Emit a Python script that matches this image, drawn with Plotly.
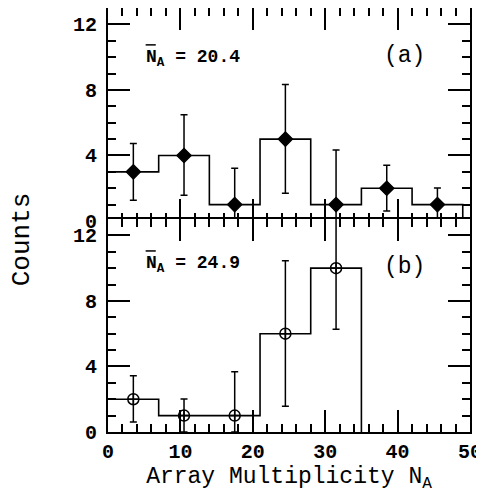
import plotly.graph_objects as go
from plotly.subplots import make_subplots

# ---- data ----
edges_a = [0, 7, 14, 21, 28, 35, 42, 49]
counts_a = [3, 4, 1, 5, 1, 2, 1]
centers_a = [3.5, 10.5, 17.5, 24.5, 31.5, 38.5, 45.5]
err_plus_a = [1.73, 2.49, 2.22, 3.33, 3.33, 1.41, 1.02]
err_minus_a = [1.73, 2.43, 1.0, 3.31, 1.0, 1.39, 1.0]

edges_b = [0, 7, 14, 21, 28, 35]
counts_b = [2, 1, 1, 6, 10]
centers_b = [3.5, 10.5, 17.5, 24.5, 31.5]
err_plus_b = [1.43, 1.02, 2.67, 4.45, 5.0]
err_minus_b = [1.39, 1.0, 1.0, 4.43, 3.73]

label_a = "N<sub>A</sub> = 20.4"
label_b = "N<sub>A</sub> = 24.9"
panel_a = "(a)"
panel_b = "(b)"
x_ticks = [0, 10, 20, 30, 40, 50]
y_ticks = [0, 4, 8, 12]


def step_xy(edges, counts):
    xs = list(edges[:-1]) + [edges[-1], edges[-1]]
    ys = list(counts) + [counts[-1], 0]
    return xs, ys


MONO = "Liberation Mono"
LW = 2

fig = make_subplots(rows=2, cols=1, shared_xaxes=True, vertical_spacing=0)

for row, edges, counts, centers, ep, em, sym in [
    (1, edges_a, counts_a, centers_a, err_plus_a, err_minus_a, "diamond"),
    (2, edges_b, counts_b, centers_b, err_plus_b, err_minus_b, "circle-cross-open"),
]:
    xs, ys = step_xy(edges, counts)
    fig.add_trace(go.Scatter(x=xs, y=ys, mode="lines", line=dict(shape="hv", color="black", width=1.6),
                             showlegend=False, hoverinfo="skip"), row=row, col=1)
    fig.add_trace(go.Scatter(
        x=centers, y=counts, mode="markers",
        marker=dict(symbol=sym, size=11, color="black",
                    line=dict(color="black", width=1.3 if sym == "diamond" else 1.5)),
        error_y=dict(type="data", symmetric=False, array=ep, arrayminus=em,
                     color="black", thickness=1.5, width=3.5),
        showlegend=False), row=row, col=1)

axis_common = dict(
    showline=True, linewidth=LW, linecolor="black", mirror="ticks",
    ticks="inside", ticklen=22, tickwidth=1.5, tickcolor="black",
    showgrid=False, zeroline=False, automargin=False,
)

for r in (1, 2):
    fig.update_xaxes(range=[0, 50], tickvals=x_ticks, showticklabels=(r == 2),
                     minor=dict(dtick=2, ticks="inside", ticklen=8, tickwidth=1.5, tickcolor="black", showgrid=False),
                     tickfont=dict(family=MONO, size=20, color="black", weight="bold"),
                     **axis_common, row=r, col=1)
    fig.update_yaxes(range=[0, 13], tickvals=y_ticks,
                     minor=dict(dtick=1, ticks="inside", ticklen=8, tickwidth=1.5, tickcolor="black", showgrid=False),
                     tickfont=dict(family=MONO, size=20, color="black", weight="bold"),
                     ticklabelstandoff=5,
                     **axis_common, row=r, col=1)

# overlap the two panels by one line width so the shared border is drawn once
plot_h = 487 - 63
ov = LW / plot_h / 2
fig.update_yaxes(domain=[0.5 - ov, 1.0], row=1, col=1)
fig.update_yaxes(domain=[0.0, 0.5 + ov], row=2, col=1)

fig.update_xaxes(title=dict(text="Array Multiplicity N<sub>A</sub>",
                            font=dict(family=MONO, size=23, color="black"), standoff=4),
                 row=2, col=1)

ann_font = dict(family=MONO, size=18, color="black", weight="bold")
fig.add_annotation(x=5.0, y=9.9, xref="x", yref="y", text=label_a, showarrow=False,
                   xanchor="left", yanchor="middle", font=ann_font)
fig.add_annotation(x=5.0, y=10.2, xref="x2", yref="y2", text=label_b, showarrow=False,
                   xanchor="left", yanchor="middle", font=ann_font)
fig.add_annotation(x=41, y=10.1, xref="x", yref="y", text=panel_a, showarrow=False,
                   font=dict(family=MONO, size=23, color="black"))
fig.add_annotation(x=41, y=10.1, xref="x2", yref="y2", text=panel_b, showarrow=False,
                   font=dict(family=MONO, size=23, color="black"))
# overline bars for N-bar
for xr, yr, yv in [("x", "y", 10.75), ("x2", "y2", 11.05)]:
    fig.add_shape(type="line", xref=xr, yref=yr, x0=5.2, x1=6.6, y0=yv, y1=yv,
                  line=dict(color="black", width=1.5))

fig.add_annotation(x=-0.237, y=0.455, xref="paper", yref="paper", text="Counts", showarrow=False,
                   xanchor="center", yanchor="middle",
                   textangle=-90, font=dict(family=MONO, size=26, color="black"))

# page body adds an 8px offset; size the figure so the plot lands where the reference has it
fig.update_layout(width=476, height=487, margin=dict(l=100, r=14, t=0, b=63),
                  plot_bgcolor="white", paper_bgcolor="white")

fig.write_html("out.html")
